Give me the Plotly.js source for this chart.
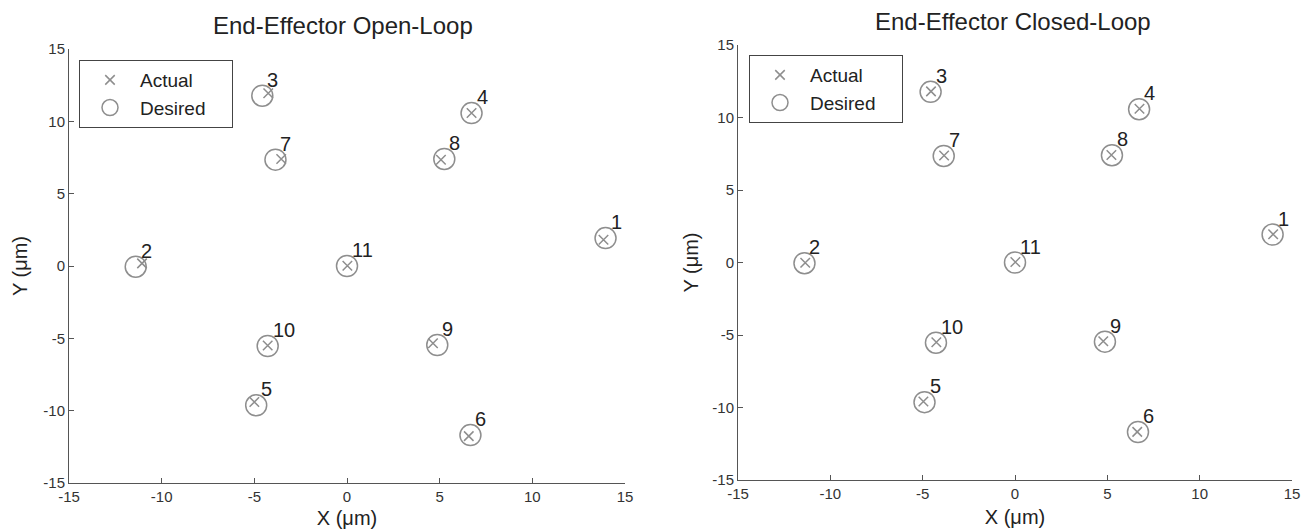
<!DOCTYPE html>
<html>
<head>
<meta charset="utf-8">
<script src="https://cdn.plot.ly/plotly-3.0.1.min.js"></script>
<style>html,body{margin:0;padding:0;background:#fff;}#chart{width:1309px;height:529px;}</style>
</head>
<body>
<div id="chart"></div>
<script>
// Point labels
const pointLabels = ['1','2','3','4','5','6','7','8','9','10','11'];
// Desired end-effector positions (µm), same targets in both experiments
const desiredX = [13.95, -11.40, -4.57, 6.72, -4.90, 6.66, -3.86, 5.25, 4.87, -4.28, 0.00];
const desiredY = [1.93, -0.05, 11.77, 10.57, -9.63, -11.69, 7.35, 7.40, -5.46, -5.53, 0.00];
// Open-loop actual positions (µm)
const openActualX = [13.84, -11.06, -4.25, 6.72, -5.00, 6.57, -3.55, 5.07, 4.64, -4.28, 0.02];
const openActualY = [1.81, 0.18, 11.94, 10.57, -9.40, -11.76, 7.40, 7.35, -5.34, -5.50, 0.02];
// Closed-loop actual positions (µm)
const closedActualX = [13.98, -11.36, -4.55, 6.74, -4.96, 6.62, -3.84, 5.22, 4.78, -4.26, 0.02];
const closedActualY = [1.95, -0.02, 11.80, 10.60, -9.58, -11.68, 7.38, 7.42, -5.43, -5.50, 0.03];
// Axis ticks
const tickVals = [-15, -10, -5, 0, 5, 10, 15];
const tickText = ['-15', '-10', '-5', '0', '5', '10', '15'];
const panelTitles = ['End-Effector Open-Loop', 'End-Effector Closed-Loop'];
const seriesNames = ['Actual', 'Desired'];

const markerColor = '#8e8e8e';
const textColor = '#222222';
const axisColor = '#555555';
const fontFam = 'Liberation Sans, Arial, Helvetica, sans-serif';
const pad = '\u00a0\u00a0\u00a0\u00a0';

function actualTrace(x, y, xa, ya, lg) {
  return {
    type: 'scatter', mode: 'markers', name: seriesNames[0] + pad, x: x, y: y,
    xaxis: xa, yaxis: ya, legend: lg,
    marker: {symbol: 'x-thin-open', size: 9.5, color: markerColor, line: {width: 1.5, color: markerColor}},
    hoverinfo: 'x+y'
  };
}
function desiredTrace(x, y, xa, ya, lg) {
  return {
    type: 'scatter', mode: 'markers', name: seriesNames[1] + pad, x: x, y: y,
    xaxis: xa, yaxis: ya, legend: lg,
    marker: {symbol: 'circle-open', size: 21, color: markerColor, line: {width: 1.5, color: markerColor}},
    hoverinfo: 'x+y'
  };
}

const data = [
  actualTrace(openActualX, openActualY, 'x', 'y', 'legend'),
  desiredTrace(desiredX, desiredY, 'x', 'y', 'legend'),
  actualTrace(closedActualX, closedActualY, 'x2', 'y2', 'legend2'),
  desiredTrace(desiredX, desiredY, 'x2', 'y2', 'legend2')
];

function axisBase(extra) {
  return Object.assign({
    range: [-15, 15], tickmode: 'array', tickvals: tickVals, ticktext: tickText,
    ticks: 'inside', ticklen: 5, tickwidth: 1, tickcolor: axisColor,
    showline: true, linecolor: axisColor, linewidth: 1, mirror: false,
    showgrid: false, zeroline: false,
    tickfont: {family: fontFam, size: 15, color: '#333333'},
    fixedrange: true
  }, extra);
}

const annotations = [];
function addLabels(xref, yref) {
  for (let i = 0; i < pointLabels.length; i++) {
    annotations.push({
      xref: xref, yref: yref, x: desiredX[i], y: desiredY[i],
      text: pointLabels[i], showarrow: false,
      xanchor: 'left', yanchor: 'bottom', xshift: 3, yshift: 3,
      font: {family: fontFam, size: 20, color: textColor}
    });
  }
}
addLabels('x', 'y');
addLabels('x2', 'y2');
annotations.push({xref: 'paper', yref: 'paper', x: 343/1309, y: 1 - 25/529, xanchor: 'center', yanchor: 'middle',
  text: panelTitles[0], showarrow: false, font: {family: fontFam, size: 24, color: textColor}});
annotations.push({xref: 'paper', yref: 'paper', x: 1013/1309, y: 1 - 21/529, xanchor: 'center', yanchor: 'middle',
  text: panelTitles[1], showarrow: false, font: {family: fontFam, size: 24, color: textColor}});

const titleFont = {family: fontFam, size: 20, color: textColor};
const legendFont = {family: fontFam, size: 19, color: textColor};
const layout = {
  width: 1309, height: 529,
  margin: {l: 0, r: 0, t: 0, b: 0},
  paper_bgcolor: '#ffffff', plot_bgcolor: '#ffffff',
  showlegend: true,
  xaxis: axisBase({domain: [69/1309, 625/1309], anchor: 'y', title: {text: 'X (μm)', font: titleFont, standoff: 8}}),
  yaxis: axisBase({domain: [1 - 483/529, 1 - 49/529], anchor: 'x', title: {text: 'Y (μm)', font: titleFont, standoff: 10}}),
  xaxis2: axisBase({domain: [738/1309, 1292/1309], anchor: 'y2', title: {text: 'X (μm)', font: titleFont, standoff: 8}}),
  yaxis2: axisBase({domain: [1 - 480/529, 1 - 45/529], anchor: 'x2', title: {text: 'Y (μm)', font: titleFont, standoff: 8}}),
  legend: {x: 79/1309, y: 1 - 60/529, xanchor: 'left', yanchor: 'top', bgcolor: '#ffffff', itemwidth: 50,
    bordercolor: '#444444', borderwidth: 1, font: legendFont},
  legend2: {x: 749/1309, y: 1 - 55/529, xanchor: 'left', yanchor: 'top', bgcolor: '#ffffff', itemwidth: 50,
    bordercolor: '#444444', borderwidth: 1, font: legendFont},
  annotations: annotations
};

Plotly.newPlot('chart', data, layout, {displayModeBar: false, staticPlot: true});
</script>
</body>
</html>
